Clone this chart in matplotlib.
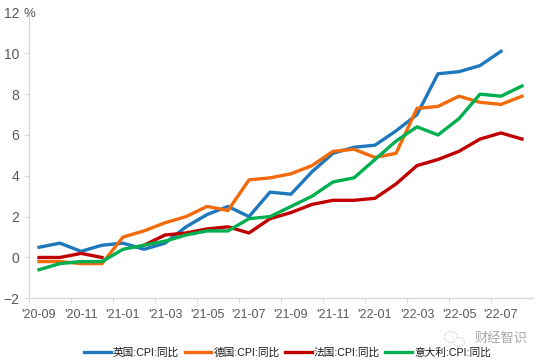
import numpy as np
import matplotlib
matplotlib.use("Agg")
import matplotlib.pyplot as plt
from matplotlib.patches import Ellipse

plt.rcParams["font.family"] = ["Liberation Sans", "Noto Sans CJK SC"]

months = ["'20-09", "'20-10", "'20-11", "'20-12", "'21-01", "'21-02", "'21-03", "'21-04",
          "'21-05", "'21-06", "'21-07", "'21-08", "'21-09", "'21-10", "'21-11", "'21-12",
          "'22-01", "'22-02", "'22-03", "'22-04", "'22-05", "'22-06", "'22-07", "'22-08"]
uk = [0.5, 0.7, 0.3, 0.6, 0.7, 0.4, 0.7, 1.5, 2.1, 2.5, 2.0, 3.2,
      3.1, 4.2, 5.1, 5.4, 5.5, 6.2, 7.0, 9.0, 9.1, 9.4, 10.1, np.nan]
germany = [-0.2, -0.2, -0.3, -0.3, 1.0, 1.3, 1.7, 2.0, 2.5, 2.3, 3.8, 3.9,
           4.1, 4.5, 5.2, 5.3, 4.9, 5.1, 7.3, 7.4, 7.9, 7.6, 7.5, 7.9]
france = [0.0, 0.0, 0.2, 0.0, np.nan, 0.6, 1.1, 1.2, 1.4, 1.5, 1.2, 1.9,
          2.2, 2.6, 2.8, 2.8, 2.9, 3.6, 4.5, 4.8, 5.2, 5.8, 6.1, 5.8]
italy = [-0.6, -0.3, -0.2, -0.2, 0.4, 0.6, 0.8, 1.1, 1.3, 1.3, 1.9, 2.0,
         2.5, 3.0, 3.7, 3.9, 4.8, 5.7, 6.4, 6.0, 6.8, 8.0, 7.9, 8.4]
names = ["英国:CPI:同比", "德国:CPI:同比", "法国:CPI:同比", "意大利:CPI:同比"]
colors = ["#1f78bd", "#f26a0a", "#c00000", "#00b050"]

W, H = 544, 364
fig = plt.figure(figsize=(W / 100, H / 100), dpi=100)
ax = fig.add_axes([28.5 / W, 1 - 298.3 / H, 504 / W, (298.3 - 12.5) / H])

x = np.arange(len(months))
for y, name, c in zip([uk, germany, france, italy], names, colors):
    ax.plot(x, y, color=c, lw=2.4, label=name)

ax.set_xlim(-0.5, 23.5)
ax.set_ylim(-2, 12)
ax.set_yticks(np.arange(-2, 13, 2))
ax.set_xticks(x[::2] - 0.5)
ax.set_xticks(x[::2], months[::2], minor=True)
ax.tick_params(axis="x", which="major", labelbottom=False, length=3.5, width=0.8, color="#d9d9d9")
ax.tick_params(axis="x", which="minor", length=0, pad=8, labelsize=9, labelcolor="#595959")
ax.tick_params(axis="y", length=3.5, width=0.8, color="#d9d9d9", pad=3, labelsize=10, labelcolor="#595959")
for s in ["top", "right"]:
    ax.spines[s].set_visible(False)
for s in ["left", "bottom"]:
    ax.spines[s].set_color("#d9d9d9")
    ax.spines[s].set_linewidth(1)

fig.text(23 / W, 1 - 14 / H, "%", fontsize=9.5, color="#595959", ha="left", va="center")

fig.legend(loc="center", bbox_to_anchor=(287.5 / W, 1 - 353 / H), ncol=4, frameon=False, fontsize=7.7,
           handlelength=2.5, handletextpad=0.2, columnspacing=0.5, borderpad=0, labelcolor="#1a1a1a")

# watermark
fig.text(475 / W, 1 - 339 / H, "财经智识", fontsize=9.5, color="#a6a6a6", ha="left", va="center")
for cx, cy, w, h in [(451, 337, 13, 11), (459, 342, 11, 9)]:
    fig.add_artist(Ellipse((cx / W, 1 - cy / H), w / W, h / H, transform=fig.transFigure,
                           fc="white", ec="#c4c4c4", lw=0.7, ls=(0, (1.5, 1.5))))

fig.savefig("out.png", dpi=100)
